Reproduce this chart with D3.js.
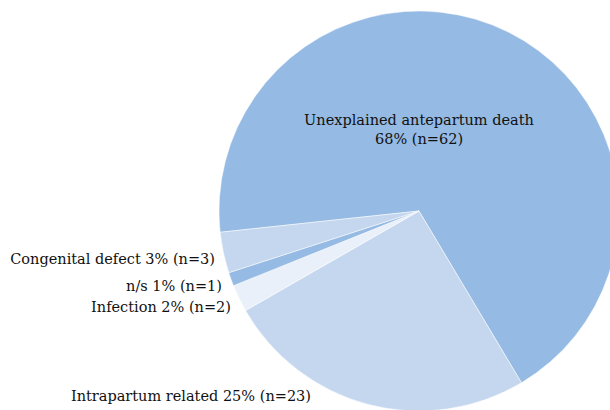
<!DOCTYPE html>
<html><head><meta charset="utf-8">
<script src="https://cdn.jsdelivr.net/npm/d3@7"></script>
<style>html,body{margin:0;padding:0;background:#fff;overflow:hidden}</style>
</head><body>
<svg id="c" width="610" height="410"></svg>
<script>
const categories = ["Unexplained antepartum death","Intrapartum related","Infection","n/s","Congenital defect"];
const counts = [62, 23, 2, 1, 3];
const percents = [68, 25, 2, 1, 3];
const colors = ["#95bae3","#c5d7ef","#e9f0f9","#95bae3","#c5d7ef"];

const svg = d3.select("#c");
const cx = 419, cy = 211, R = 200;
const data = categories.map((c,i)=>({cat:c, n:counts[i], p:percents[i], color:colors[i]}));
const start = -96.1 * Math.PI/180;
const pie = d3.pie().value(d=>d.n).sort(null).startAngle(start).endAngle(start + 2*Math.PI);
const arc = d3.arc().innerRadius(0).outerRadius(R);
const arcs = pie(data);
const g = svg.append("g").attr("transform",`translate(${cx},${cy})`);
g.selectAll("path").data(arcs).join("path")
  .attr("d",arc).attr("fill",d=>d.data.color)
  .attr("stroke","#fff").attr("stroke-width",0.5);

const font = "DejaVu Serif";
const fs = 14.5;
const t0 = g.append("text").attr("text-anchor","middle").attr("font-family",font).attr("font-size",fs).attr("fill","#111");
t0.append("tspan").attr("x",0).attr("y",-86).text(data[0].cat);
t0.append("tspan").attr("x",0).attr("y",-67).text(`${data[0].p}% (n=${data[0].n})`);

const ext = [
  {i:4, x:215-cx, y:264-cy},
  {i:3, x:222-cx, y:291-cy},
  {i:2, x:231-cx, y:312-cy},
  {i:1, x:311-cx, y:401-cy}
];
ext.forEach(e=>{
  const d = data[e.i];
  g.append("text").attr("text-anchor","end").attr("font-family",font).attr("font-size",fs).attr("fill","#111")
   .attr("x",e.x).attr("y",e.y).text(`${d.cat} ${d.p}% (n=${d.n})`);
});
</script>
</body></html>
